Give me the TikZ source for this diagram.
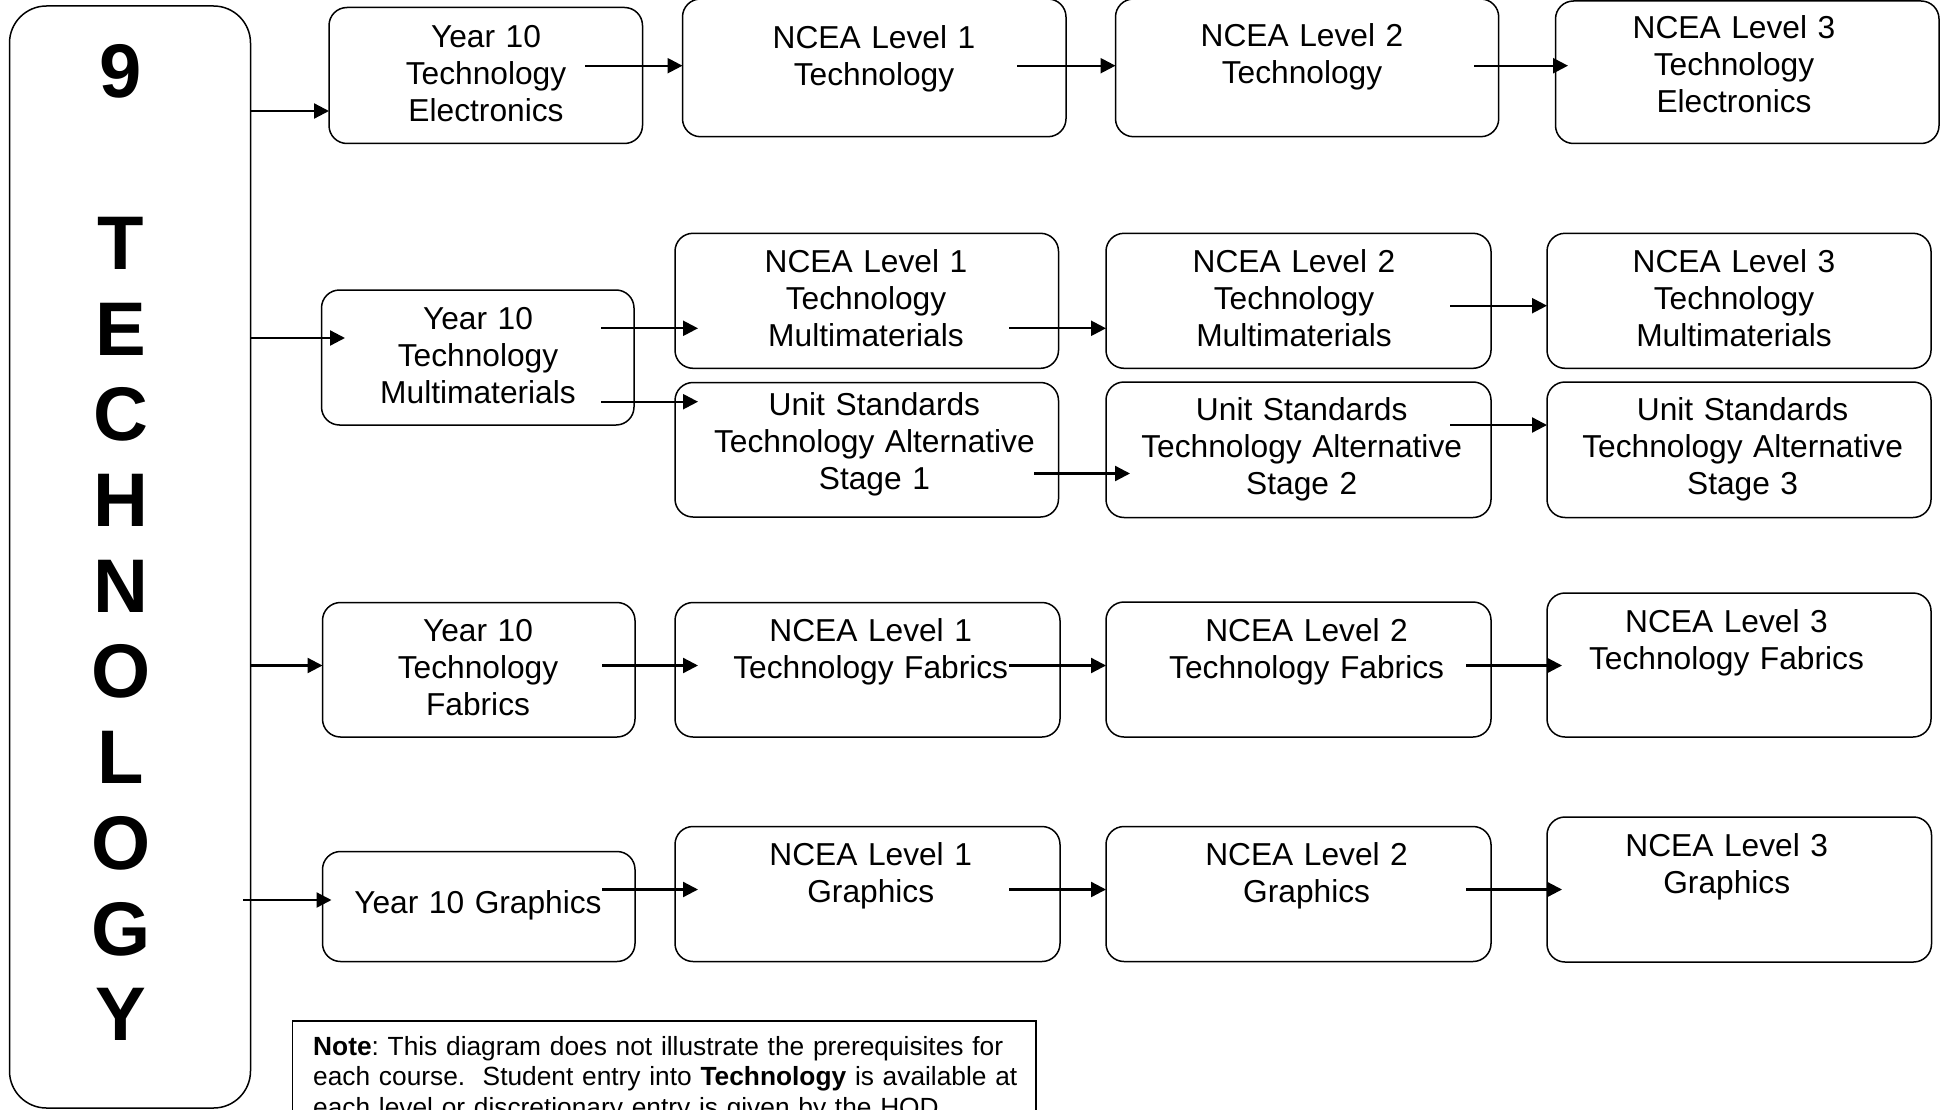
\documentclass[tikz,border=0pt]{standalone}
\usepackage{fontspec}
\setmainfont{Liberation Sans}
\usetikzlibrary{arrows.meta}
\newcommand\mkbox[5]{\node[box, minimum width={(#4)-(#2)}, minimum height={(#5)-(#3)}] (#1) at ({((#2)+(#4))/2},{((#3)+(#5))/2}) {};}
\newcommand\mktxt[4]{\node[lbl] (#1) at (#2,#3) {#4};}
\begin{document}
\frenchspacing
\begin{tikzpicture}[x=1pt,y=-1pt,
  box/.style={draw, line width=1.5pt, rounded corners=18pt, inner sep=0pt, outer sep=0pt},
  lbl/.style={inner sep=0pt, anchor=base, align=center, text width=390pt, font=\fontsize{31.7}{37}\selectfont},
  arr/.style={line width=2.3pt, -{Triangle[length=15pt,width=15pt]}}]
\useasboundingbox (0,0) rectangle (1942,1110);
\clip (0,0) rectangle (1942,1110);
\fill[white] (0,0) rectangle (1942,1110);

% left column
\node[box, rounded corners=37pt, minimum width=241, minimum height=1102] (lbox) at (130,557) {};
\node[inner sep=0pt, anchor=base, text width=200pt, align=center, font=\bfseries\fontsize{76}{85.7}\selectfont] (title) at (121,98) {9\\[85.7pt]T\\E\\C\\H\\N\\O\\L\\O\\G\\Y};

% boxes
\mkbox{yte}{329}{7.5}{642.5}{143.5}
\mkbox{ltt}{682.5}{-1}{1066}{136.7}
\mkbox{lbt}{1115.5}{-1}{1498.7}{136.7}
\mkbox{lce}{1555.5}{1}{1939}{143.5}
\mkbox{ytm}{321.5}{290}{634}{425}
\mkbox{lam}{675}{233.3}{1058.5}{368.3}
\mkbox{usa}{675}{382.5}{1058.5}{517}
\mkbox{lbm}{1106}{233.3}{1491}{368.3}
\mkbox{usb}{1106}{382}{1491}{517.5}
\mkbox{lcm}{1547}{233.3}{1931}{368.3}
\mkbox{usc}{1547}{382}{1931}{517.5}
\mkbox{ytf}{322.5}{602.5}{635}{737}
\mkbox{laf}{675}{602.5}{1060}{737}
\mkbox{lbf}{1106}{602}{1491}{737}
\mkbox{lcf}{1547}{593}{1931}{737}
\mkbox{ytg}{322.5}{851.5}{635}{961.5}
\mkbox{lag}{675}{826.5}{1060}{961.5}
\mkbox{lbg}{1106}{826.5}{1491}{961.5}
\mkbox{lcg}{1547}{817}{1931.5}{962}

% texts
\mktxt{tyte}{486}{48}{Year 10\\Technology\\Electronics}
\mktxt{tltt}{874}{49}{NCEA Level 1\\Technology}
\mktxt{tlbt}{1302}{46.5}{NCEA Level 2\\Technology}
\mktxt{tlce}{1734}{39}{NCEA Level 3\\Technology\\Electronics}
\mktxt{tytm}{478}{329}{Year 10\\Technology\\Multimaterials}
\mktxt{tlam}{866}{272}{NCEA Level 1\\Technology\\Multimaterials}
\mktxt{tlbm}{1294}{272}{NCEA Level 2\\Technology\\Multimaterials}
\mktxt{tlcm}{1734}{272}{NCEA Level 3\\Technology\\Multimaterials}
\mktxt{tusa}{874.4}{415}{Unit Standards\\Technology Alternative\\Stage 1}
\mktxt{tusb}{1301.7}{420.7}{Unit Standards\\Technology Alternative\\Stage 2}
\mktxt{tusc}{1742.6}{420.7}{Unit Standards\\Technology Alternative\\Stage 3}
\mktxt{tytf}{478}{641.4}{Year 10\\Technology\\Fabrics}
\mktxt{tlaf}{870.7}{641.4}{NCEA Level 1\\Technology Fabrics}
\mktxt{tlbf}{1306.6}{641.7}{NCEA Level 2\\Technology Fabrics}
\mktxt{tlcf}{1726.5}{632.7}{NCEA Level 3\\Technology Fabrics}
\mktxt{tytg}{478}{913.5}{Year 10 Graphics}
\mktxt{tlag}{870.7}{865.6}{NCEA Level 1\\Graphics}
\mktxt{tlbg}{1306.6}{865.6}{NCEA Level 2\\Graphics}
\mktxt{tlcg}{1726.7}{856.7}{NCEA Level 3\\Graphics}

% arrows
\coordinate (a1) at (250.5,111);   \draw[arr] (a1) -- (a1 -| yte.west);
\coordinate (a2) at (585,65.7);    \draw[arr] (a2) -- (a2 -| ltt.west);
\coordinate (a3) at (1017,65.7);   \draw[arr] (a3) -- (a3 -| lbt.west);
\coordinate (a4) at (1474,65.7);   \draw[arr] (a4) -- ([xshift=12.5pt]a4 -| lce.west);
\coordinate (a5) at (250.5,338);   \draw[arr] (a5) -- ([xshift=23.5pt]a5 -| ytm.west);
\coordinate (a6) at (601,328.3);   \draw[arr] (a6) -- ([xshift=23pt]a6 -| lam.west);
\coordinate (a7) at (601,401.7);   \draw[arr] (a7) -- ([xshift=23pt]a7 -| usa.west);
\coordinate (a8) at (1009,328.3);  \draw[arr] (a8) -- (a8 -| lbm.west);
\coordinate (a9) at (1034,473.5);  \draw[arr] (a9) -- ([xshift=24pt]a9 -| usb.west);
\coordinate (a10) at (1450,305.7); \draw[arr] (a10) -- (a10 -| lcm.west);
\coordinate (a11) at (1450,425);   \draw[arr] (a11) -- (a11 -| usc.west);
\coordinate (a12) at (250.5,665.5); \draw[arr] (a12) -- (a12 -| ytf.west);
\coordinate (a13) at (602,665.5);  \draw[arr] (a13) -- ([xshift=23pt]a13 -| laf.west);
\coordinate (a14) at (1009,665.5); \draw[arr] (a14) -- (a14 -| lbf.west);
\coordinate (a15) at (1466,665.5); \draw[arr] (a15) -- ([xshift=15pt]a15 -| lcf.west);
\coordinate (a16) at (243,900);    \draw[arr] (a16) -- ([xshift=9pt]a16 -| ytg.west);
\coordinate (a17) at (602,889.5);  \draw[arr] (a17) -- ([xshift=23pt]a17 -| lag.west);
\coordinate (a18) at (1009,889.5); \draw[arr] (a18) -- (a18 -| lbg.west);
\coordinate (a19) at (1466,889.5); \draw[arr] (a19) -- ([xshift=15pt]a19 -| lcg.west);

% note
\node[draw, line width=1.5pt, inner sep=0pt, minimum width=743.5, minimum height=140, anchor=north west] (note) at (291.5,1020) {};
\node[inner sep=0pt, anchor=base west, text width=730pt, align=left, font=\fontsize{26.3}{30.5}\selectfont] (notetext) at (313,1055) {\frenchspacing\textbf{Note}: This diagram does not illustrate the prerequisites for\\each course.~~Student entry into \textbf{Technology} is available at\\each level or discretionary entry is given by the HOD};
\end{tikzpicture}
\end{document}
